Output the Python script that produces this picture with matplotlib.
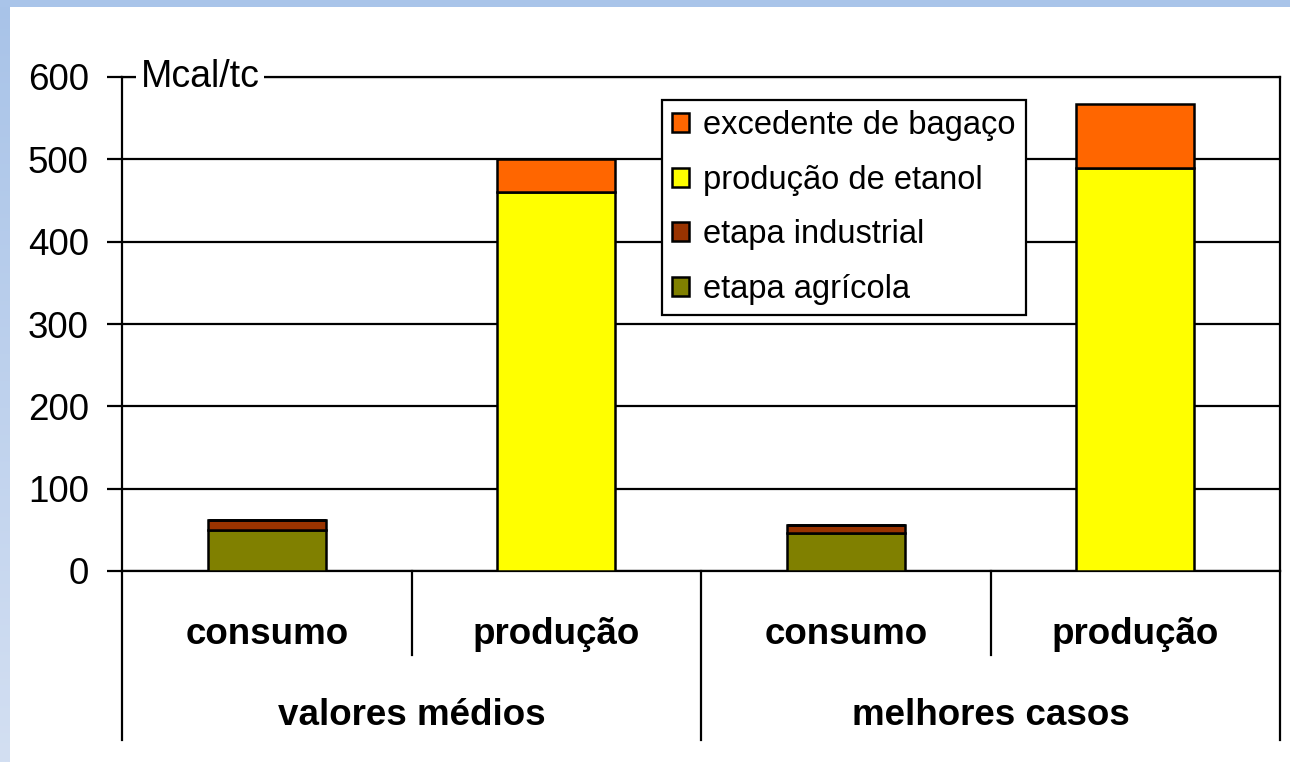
import numpy as np
import matplotlib
matplotlib.use("Agg")
import matplotlib.pyplot as plt
import matplotlib.transforms as mtransforms

plt.rcParams["font.family"] = ["Liberation Sans", "DejaVu Sans"]

# data (Mcal/tc)
categories = ["consumo", "produção", "consumo", "produção"]
groups = ["valores médios", "melhores casos"]
agricola = [50, 0, 46, 0]
industrial = [12, 0, 10, 0]
etanol = [0, 460, 0, 490]
bagaco = [0, 40, 0, 77]
yticks = [0, 100, 200, 300, 400, 500, 600]

fig = plt.figure(figsize=(12.9, 7.62), dpi=100, facecolor="white")

# light blue frame on top and left edge
bg = fig.add_axes([0, 0, 1, 1], zorder=-10)
bg.set_axis_off()
bg.set_xlim(0, 1290)
bg.set_ylim(762, 0)
grad = np.linspace(0, 1, 256).reshape(-1, 1)
cmap = matplotlib.colors.LinearSegmentedColormap.from_list("edge", ["#a8c3e8", "#d3dff2"])
bg.imshow(grad, cmap=cmap, extent=[0, 10, 762, 0], aspect="auto")
bg.add_patch(plt.Rectangle((0, 0), 1290, 7, color="#a9c4e9", lw=0))

ax = fig.add_axes([122 / 1290, 1 - 571 / 762, 1158 / 1290, 494 / 762])

x = np.arange(len(categories))
w = 0.408
bottom = np.zeros(len(categories))
series = [
    (agricola, "#808000", "etapa agrícola"),
    (industrial, "#993300", "etapa industrial"),
    (etanol, "#ffff00", "produção de etanol"),
    (bagaco, "#ff6600", "excedente de bagaço"),
]
for vals, col, lab in series:
    ax.bar(x, vals, w, bottom=bottom, color=col, edgecolor="black", linewidth=1.8,
           label=lab, zorder=3)
    bottom += np.array(vals)

ax.set_xlim(-0.5, 3.5)
ax.set_ylim(0, 600)
ax.set_yticks(yticks)
ax.set_yticklabels([str(t) for t in yticks], fontsize=26.5)
ax.tick_params(axis="y", direction="out", length=11, width=1.6, pad=13)
ax.set_xticks([])
ax.yaxis.grid(True, color="black", linewidth=1.6)
ax.set_axisbelow(True)
for s in ax.spines.values():
    s.set_linewidth(1.6)

# unit label sitting on the top frame
ax.text(0.016, 1.0, "Mcal/tc", transform=ax.transAxes, fontsize=27,
        ha="left", va="center", zorder=5,
        bbox=dict(facecolor="white", edgecolor="none", pad=3))

# two-level category axis
trans = mtransforms.blended_transform_factory(ax.transData, ax.transAxes)
for xs in [-0.5, 1.5, 3.5]:
    ax.plot([xs, xs], [0, -0.342], color="black", lw=1.6, transform=trans, clip_on=False)
for xs in [0.5, 2.5]:
    ax.plot([xs, xs], [0, -0.170], color="black", lw=1.6, transform=trans, clip_on=False)
for i, c in enumerate(categories):
    ax.text(i, -0.128, c, transform=trans, ha="center", va="center",
            fontsize=26.5, fontweight="bold")
for j, g in enumerate(groups):
    ax.text(2 * j + 0.5, -0.293, g, transform=trans, ha="center", va="center",
            fontsize=26.5, fontweight="bold")

handles, labels = ax.get_legend_handles_labels()
leg = ax.legend(handles[::-1], labels[::-1], loc="upper left",
                bbox_to_anchor=(0.466, 0.954), borderaxespad=0,
                fontsize=23.5, frameon=True, fancybox=False, framealpha=1,
                edgecolor="black", handlelength=0.52, handleheight=0.52,
                handletextpad=0.44, labelspacing=0.72, borderpad=0.32)
leg.get_frame().set_linewidth(1.6)
leg.set_zorder(6)

fig.savefig("out.png", dpi=100, facecolor="white")
